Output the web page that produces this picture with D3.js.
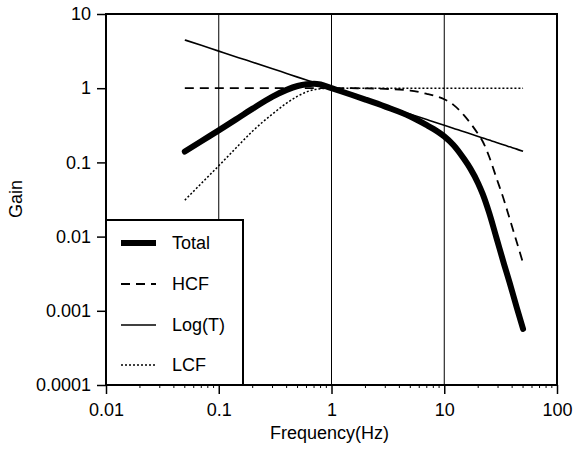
<!DOCTYPE html>
<html>
<head>
<meta charset="utf-8">
<script src="https://cdn.jsdelivr.net/npm/d3@7"></script>
<style>
  html, body { margin: 0; padding: 0; background: #fff; }
  svg { display: block; }
  text { font-family: "Liberation Sans", Arial, Helvetica, sans-serif; fill: #000; }
</style>
</head>
<body>
<svg id="chart" width="573" height="454"></svg>
<script>
// ---- data ----
const freq  = [0.05, 0.07, 0.1, 0.15, 0.2, 0.3, 0.4, 0.5, 0.6, 0.7, 0.8, 1, 1.5, 2, 3, 5, 7, 8, 10, 12, 15, 17, 20, 22, 25, 29, 34, 38, 44, 50];
const total = [0.14, 0.193, 0.27, 0.40, 0.53, 0.77, 0.95, 1.07, 1.13, 1.15, 1.12, 1.0, 0.816, 0.703, 0.565, 0.416, 0.318, 0.283, 0.224, 0.173, 0.111, 0.083, 0.052, 0.037, 0.021, 0.0097, 0.0042, 0.0024, 0.0011, 0.00057];
const hcf   = [1, 1, 1, 1, 1, 1, 1, 1, 1, 1, 1, 1, 1, 0.995, 0.98, 0.93, 0.84, 0.80, 0.71, 0.60, 0.43, 0.34, 0.24, 0.19, 0.12, 0.062, 0.0305, 0.0175, 0.0084, 0.0044];
const logT  = [4.47, 3.78, 3.16, 2.58, 2.24, 1.83, 1.58, 1.41, 1.29, 1.2, 1.12, 1.0, 0.816, 0.707, 0.577, 0.447, 0.378, 0.354, 0.316, 0.289, 0.258, 0.243, 0.224, 0.213, 0.2, 0.186, 0.171, 0.162, 0.151, 0.141];
const lcf   = [0.031, 0.052, 0.09, 0.17, 0.265, 0.45, 0.63, 0.78, 0.89, 0.955, 0.985, 1, 1, 1, 1, 1, 1, 1, 1, 1, 1, 1, 1, 1, 1, 1, 1, 1, 1, 1];
const seriesNames = ["Total", "HCF", "Log(T)", "LCF"];
const xTicks = [0.01, 0.1, 1, 10, 100];
const xTickLabels = ["0.01", "0.1", "1", "10", "100"];
const yTicks = [0.0001, 0.001, 0.01, 0.1, 1, 10];
const yTickLabels = ["0.0001", "0.001", "0.01", "0.1", "1", "10"];
const xGrid = [0.1, 1, 10];
const xLabel = "Frequency(Hz)";
const yLabel = "Gain";

// ---- layout ----
const svg = d3.select("#chart");
const L = 106, R = 557, T = 14, B = 385;
const FS = 18;
const x = d3.scaleLog().domain([0.01, 100]).range([L, R]);
const y = d3.scaleLog().domain([0.0001, 10]).range([B, T]);

const styles = {
  "Total":  { w: 6,   dash: null,  cap: "round" },
  "HCF":    { w: 1.8, dash: "9,6", cap: "butt" },
  "Log(T)": { w: 1.6, dash: null,  cap: "butt" },
  "LCF":    { w: 1.5, dash: "2,2", cap: "butt" }
};
const dataBy = { "Total": total, "HCF": hcf, "Log(T)": logT, "LCF": lcf };

// grid lines
svg.append("g").selectAll("line").data(xGrid).join("line")
  .attr("x1", d => x(d)).attr("x2", d => x(d))
  .attr("y1", T).attr("y2", B)
  .attr("stroke", "#000").attr("stroke-width", 1);

// minor x ticks
const minor = [];
for (let dec = 0.01; dec < 100; dec *= 10) for (let m = 2; m <= 9; m++) minor.push(dec * m);
svg.append("g").selectAll("line").data(minor).join("line")
  .attr("x1", d => x(d)).attr("x2", d => x(d))
  .attr("y1", B).attr("y2", B + 3)
  .attr("stroke", "#000").attr("stroke-width", 1);

// axes
const xAxis = d3.axisBottom(x).tickValues(xTicks).tickFormat((d, i) => xTickLabels[i]).tickSize(9).tickPadding(9);
const yAxis = d3.axisLeft(y).tickValues(yTicks).tickFormat((d, i) => yTickLabels[i]).tickSize(9).tickPadding(6);
const gx = svg.append("g").attr("transform", `translate(0,${B})`).call(xAxis);
const gy = svg.append("g").attr("transform", `translate(${L},0)`).call(yAxis);
[gx, gy].forEach(g => {
  g.select(".domain").remove();
  g.selectAll(".tick line").attr("stroke", "#000").attr("stroke-width", 1.5);
  g.selectAll(".tick text").attr("font-size", FS).attr("font-family", "Liberation Sans, Arial, sans-serif").attr("fill", "#000");
});

// series lines
const line = d3.line().x(d => x(d[0])).y(d => y(d[1])).curve(d3.curveMonotoneX);
const order = ["Log(T)", "LCF", "HCF", "Total"];
order.forEach(name => {
  const st = styles[name];
  const pts = freq.map((f, i) => [f, dataBy[name][i]]);
  svg.append("path").datum(pts)
    .attr("d", line)
    .attr("fill", "none")
    .attr("stroke", "#000")
    .attr("stroke-width", st.w)
    .attr("stroke-linecap", st.cap)
    .attr("stroke-linejoin", "round")
    .attr("stroke-dasharray", st.dash);
});

// frame
svg.append("rect").attr("x", L).attr("y", T).attr("width", R - L).attr("height", B - T)
  .attr("fill", "none").attr("stroke", "#000").attr("stroke-width", 2);

// legend
const lg = svg.append("g");
const lgX = L, lgY = 220, lgW = 137, lgH = B - 220;
lg.append("rect").attr("x", lgX).attr("y", lgY).attr("width", lgW).attr("height", lgH)
  .attr("fill", "#fff").attr("stroke", "#000").attr("stroke-width", 2);
const lgRowsY = [243, 284, 325, 365];
seriesNames.forEach((name, i) => {
  const st = styles[name];
  const yy = lgRowsY[i];
  lg.append("line").attr("x1", 121).attr("x2", 156).attr("y1", yy).attr("y2", yy)
    .attr("stroke", "#000").attr("stroke-width", st.w)
    .attr("stroke-dasharray", st.dash);
  lg.append("text").attr("x", 172).attr("y", yy).attr("dy", "0.36em")
    .attr("font-size", FS).text(name);
});

// axis labels
svg.append("text").attr("x", (L + R) / 2 - 2).attr("y", 439).attr("text-anchor", "middle")
  .attr("font-size", FS).text(xLabel);
svg.append("text").attr("transform", `translate(22,${199}) rotate(-90)`).attr("text-anchor", "middle")
  .attr("font-size", FS).text(yLabel);
</script>
</body>
</html>
